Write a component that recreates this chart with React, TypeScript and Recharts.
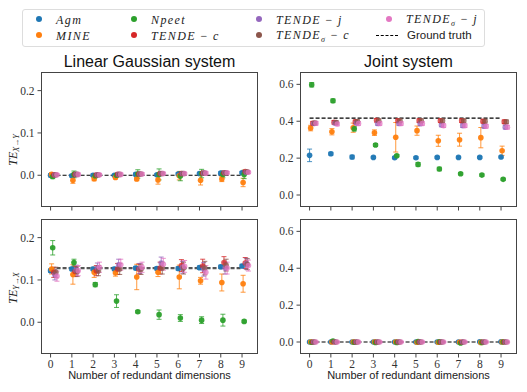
import React from "react";
import { ComposedChart, Scatter, ErrorBar, XAxis, YAxis, ReferenceLine } from "recharts";

// number of redundant dimensions
const dims = [0, 1, 2, 3, 4, 5, 6, 7, 8, 9];

// Linear Gaussian system, TE X->Y
const lgXY_agm = [0.0, -0.001, 0.0, 0.0, 0.002, 0.001, 0.003, 0.004, 0.005, 0.006];
const lgXY_agmErr = [0.004, 0.003, 0.003, 0.002, 0.003, 0.003, 0.003, 0.003, 0.003, 0.003];
const lgXY_mine = [0.002, -0.012, -0.008, -0.005, -0.009, -0.011, -0.001, -0.012, -0.009, -0.017];
const lgXY_mineErr = [0.004, 0.007, 0.005, 0.004, 0.004, 0.01, 0.01, 0.011, 0.006, 0.01];
const lgXY_npeet = [-0.003, 0.002, -0.001, 0.0, 0.003, 0.002, -0.002, 0.004, 0.002, 0.002];
const lgXY_npeetErr = [0.005, 0.008, 0.005, 0.004, 0.01, 0.013, 0.011, 0.01, 0.008, 0.01];
const lgXY_tendeC = [0.001, 0.002, 0.001, 0.002, 0.003, 0.004, 0.004, 0.005, 0.006, 0.009];
const lgXY_tendeJ = [0.001, 0.002, 0.001, 0.002, 0.003, 0.004, 0.004, 0.005, 0.006, 0.007];
const lgXY_tendeSC = [0.001, 0.002, 0.001, 0.002, 0.003, 0.004, 0.004, 0.005, 0.006, 0.008];
const lgXY_tendeSJ = [0.001, 0.002, 0.001, 0.002, 0.003, 0.004, 0.004, 0.005, 0.006, 0.007];
const lgXY_tendeErr = [0.003, 0.003, 0.003, 0.003, 0.003, 0.003, 0.003, 0.003, 0.003, 0.003];

// Joint system, TE X->Y
const jXY_agm = [0.215, 0.224, 0.206, 0.204, 0.202, 0.202, 0.204, 0.204, 0.204, 0.206];
const jXY_agmErr = [0.034, 0.008, 0.01, 0.005, 0.005, 0.005, 0.005, 0.005, 0.005, 0.005];
const jXY_mine = [0.363, 0.343, 0.365, 0.338, 0.313, 0.349, 0.294, 0.3, 0.311, 0.24];
const jXY_mineErr = [0.015, 0.017, 0.025, 0.015, 0.08, 0.025, 0.03, 0.035, 0.055, 0.025];
const jXY_npeet = [0.598, 0.511, 0.359, 0.271, 0.213, 0.166, 0.141, 0.115, 0.108, 0.085];
const jXY_npeetErr = [0.012, 0.01, 0.012, 0.008, 0.006, 0.01, 0.01, 0.006, 0.006, 0.006];
const jXY_tendeC = [0.389, 0.394, 0.397, 0.405, 0.403, 0.403, 0.403, 0.403, 0.4, 0.397];
const jXY_tendeJ = [0.388, 0.39, 0.39, 0.388, 0.388, 0.387, 0.38, 0.376, 0.373, 0.368];
const jXY_tendeSC = [0.39, 0.393, 0.398, 0.403, 0.403, 0.403, 0.402, 0.402, 0.4, 0.397];
const jXY_tendeSJ = [0.389, 0.385, 0.388, 0.388, 0.388, 0.388, 0.376, 0.376, 0.373, 0.368];
const jXY_tendeErr = [0.01, 0.01, 0.01, 0.01, 0.01, 0.01, 0.01, 0.01, 0.01, 0.01];

// Linear Gaussian system, TE Y->X
const lgYX_agm = [0.122, 0.126, 0.126, 0.126, 0.128, 0.127, 0.127, 0.129, 0.131, 0.133];
const lgYX_agmErr = [0.004, 0.004, 0.004, 0.004, 0.004, 0.004, 0.004, 0.004, 0.004, 0.004];
const lgYX_mine = [0.126, 0.113, 0.118, 0.117, 0.107, 0.118, 0.107, 0.098, 0.094, 0.091];
const lgYX_mineErr = [0.012, 0.023, 0.012, 0.008, 0.03, 0.01, 0.028, 0.008, 0.02, 0.02];
const lgYX_npeet = [0.176, 0.141, 0.089, 0.05, 0.025, 0.018, 0.01, 0.005, 0.005, 0.002];
const lgYX_npeetErr = [0.017, 0.008, 0.005, 0.015, 0.003, 0.011, 0.008, 0.008, 0.014, 0.003];
const lgYX_tendeC = [0.118, 0.12, 0.122, 0.126, 0.126, 0.128, 0.134, 0.133, 0.141, 0.14];
const lgYX_tendeJ = [0.112, 0.123, 0.128, 0.136, 0.127, 0.14, 0.13, 0.125, 0.128, 0.138];
const lgYX_tendeSC = [0.118, 0.12, 0.122, 0.126, 0.125, 0.128, 0.128, 0.128, 0.135, 0.137];
const lgYX_tendeSJ = [0.109, 0.122, 0.13, 0.136, 0.13, 0.137, 0.132, 0.118, 0.128, 0.134];
const lgYX_tendeErr = [0.012, 0.012, 0.012, 0.013, 0.012, 0.014, 0.014, 0.016, 0.014, 0.013];

// Joint system, TE Y->X
const jYX_agm = [0.0, 0.0, 0.0, 0.0, 0.0, 0.0, 0.0, 0.0, 0.001, 0.001];
const jYX_mine = [0.0, 0.0, 0.0, 0.0, 0.0, -0.001, -0.001, -0.001, -0.002, 0.0];
const jYX_npeet = [-0.001, 0.005, -0.001, -0.002, -0.002, 0.002, 0.001, -0.005, -0.002, 0.0];
const jYX_npeetErr = [0.002, 0.008, 0.002, 0.003, 0.003, 0.003, 0.002, 0.008, 0.003, 0.002];
const jYX_tende = [0.0, 0.0, 0.0, 0.0, 0.0, 0.0, 0.0, 0.0, 0.0, 0.0];
const jYX_smallErr = [0.002, 0.002, 0.002, 0.002, 0.002, 0.002, 0.002, 0.002, 0.002, 0.002];

const groundTruth = { lgXY: 0.0, jXY: 0.417, lgYX: 0.128, jYX: 0.0 };

const methods = ["Agm", "MINE", "Npeet", "TENDE-c", "TENDE-j", "TENDEs-c", "TENDEs-j"];
const colors = ["#1f77b4", "#ff7f0e", "#2ca02c", "#d62728", "#9467bd", "#8c564b", "#e377c2"];
const offsets = [0, 0.05, 0.1, 0.15, 0.2, 0.25, 0.3];

type Series = [number[], number[]];

const lgXY: Series[] = [
  [lgXY_agm, lgXY_agmErr],
  [lgXY_mine, lgXY_mineErr],
  [lgXY_npeet, lgXY_npeetErr],
  [lgXY_tendeC, lgXY_tendeErr],
  [lgXY_tendeJ, lgXY_tendeErr],
  [lgXY_tendeSC, lgXY_tendeErr],
  [lgXY_tendeSJ, lgXY_tendeErr],
];
const jXY: Series[] = [
  [jXY_agm, jXY_agmErr],
  [jXY_mine, jXY_mineErr],
  [jXY_npeet, jXY_npeetErr],
  [jXY_tendeC, jXY_tendeErr],
  [jXY_tendeJ, jXY_tendeErr],
  [jXY_tendeSC, jXY_tendeErr],
  [jXY_tendeSJ, jXY_tendeErr],
];
const lgYX: Series[] = [
  [lgYX_agm, lgYX_agmErr],
  [lgYX_mine, lgYX_mineErr],
  [lgYX_npeet, lgYX_npeetErr],
  [lgYX_tendeC, lgYX_tendeErr],
  [lgYX_tendeJ, lgYX_tendeErr],
  [lgYX_tendeSC, lgYX_tendeErr],
  [lgYX_tendeSJ, lgYX_tendeErr],
];
const jYX: Series[] = [
  [jYX_agm, jYX_smallErr],
  [jYX_mine, jYX_smallErr],
  [jYX_npeet, jYX_npeetErr],
  [jYX_tende, jYX_smallErr],
  [jYX_tende, jYX_smallErr],
  [jYX_tende, jYX_smallErr],
  [jYX_tende, jYX_smallErr],
];

const PW = 217;
const PH = 135;
const YW = 41;
const serif = "Liberation Serif, DejaVu Serif, serif";
const sans = "Liberation Sans, DejaVu Sans, sans-serif";

function Panel(props: {
  left: number;
  top: number;
  series: Series[];
  gt: number;
  gtColor: string;
  gtWidth: number;
  yDomain: [number, number];
  yTicks: number[];
  xLabels: boolean;
}) {
  const { left, top, series, gt, gtColor, gtWidth, yDomain, yTicks, xLabels } = props;
  const xH = xLabels ? 24 : 10;
  return (
    <div style={{ position: "absolute", left: left - YW, top: top - 4 }}>
      <ComposedChart width={YW + PW + 6} height={4 + PH + xH} margin={{ top: 4, right: 6, left: 0, bottom: 0 }}>
        <XAxis
          type="number"
          dataKey="x"
          domain={[-0.45, 9.75]}
          ticks={dims}
          allowDataOverflow
          axisLine={false}
          tickSize={3.5}
          tickMargin={2.5}
          height={xH}
          stroke="#444"
          tick={{ fontFamily: serif, fontSize: 11.5, fill: "#333" }}
          tickFormatter={(v: number) => (xLabels ? String(v) : "")}
        />
        <YAxis
          type="number"
          dataKey="y"
          domain={yDomain}
          ticks={yTicks}
          allowDataOverflow
          axisLine={false}
          width={YW}
          tickSize={3.5}
          tickMargin={3}
          stroke="#444"
          tick={{ fontFamily: serif, fontSize: 11.5, fill: "#333" }}
          tickFormatter={(v: number) => v.toFixed(1)}
        />
        <ReferenceLine
          segment={[{ x: 0, y: gt }, { x: 9, y: gt }]}
          stroke={gtColor}
          strokeWidth={gtWidth}
          strokeDasharray="4 2"
        />
        {series.map(([vals, errs], m) => (
          <Scatter
            key={methods[m]}
            name={methods[m]}
            data={dims.map((d, i) => ({ x: d + offsets[m], y: vals[i], err: errs[i] }))}
            fill={colors[m]}
            isAnimationActive={false}
            shape={(p: any) => (
              <circle cx={p.cx} cy={p.cy} r={2.8} fill={colors[m]} fillOpacity={m > 2 ? 0.75 : 0.95} />
            )}
          >
            <ErrorBar
              dataKey="err"
              direction="y"
              width={2.5}
              stroke={colors[m]}
              strokeOpacity={0.8}
              strokeWidth={1}
              isAnimationActive={false}
            />
          </Scatter>
        ))}
      </ComposedChart>
      <div
        style={{
          position: "absolute",
          left: YW,
          top: 4,
          width: PW,
          height: PH,
          border: "1px solid #444",
          boxSizing: "border-box",
          pointerEvents: "none",
        }}
      />
    </div>
  );
}

function YLabel({ x, y, sub }: { x: number; y: number; sub: string }) {
  return (
    <svg style={{ position: "absolute", left: x - 12, top: y - 40 }} width={24} height={80}>
      <text
        transform="translate(13 40) rotate(-90)"
        textAnchor="middle"
        fontFamily={serif}
        fontStyle="italic"
        fontSize={12}
        fill="#222"
      >
        TE
        <tspan fontSize={8} dy={2}>
          {sub}
        </tspan>
      </text>
    </svg>
  );
}

function MethodName({ name }: { name: string }) {
  const base = name.startsWith("TENDE") ? "TENDE" : name;
  const sigma = name.startsWith("TENDEs");
  const suffix = name.includes("-") ? name.split("-")[1] : "";
  return (
    <span style={{ fontFamily: serif, fontStyle: "italic", fontSize: 12, letterSpacing: 1.4 }}>
      {base}
      {sigma && <sub style={{ fontSize: 8 }}>σ</sub>}
      {suffix && (
        <>
          <span style={{ fontStyle: "normal" }}> − </span>
          {suffix}
        </>
      )}
    </span>
  );
}

const legendCols = [38, 133, 258, 388];

function Legend() {
  const items = methods.map((m, i) => ({ m, col: Math.floor(i / 2), row: i % 2, color: colors[i] }));
  return (
    <div
      style={{
        position: "absolute",
        left: 22,
        top: 9,
        width: 463,
        height: 38,
        border: "1px solid #ddd",
        borderRadius: 3,
        boxSizing: "border-box",
        color: "#222",
      }}
    >
      {items.map((it) => (
        <div key={it.m} style={{ position: "absolute", left: legendCols[it.col] - 22 - 3, top: it.row * 16 + 1, height: 16, display: "flex", alignItems: "center", whiteSpace: "nowrap" }}>
          <span style={{ width: 6, height: 6, borderRadius: 3, background: it.color, display: "inline-block" }} />
          <span style={{ marginLeft: 14 }}>
            <MethodName name={it.m} />
          </span>
        </div>
      ))}
      <div style={{ position: "absolute", left: 375 - 22, top: 17, height: 16, display: "flex", alignItems: "center", whiteSpace: "nowrap" }}>
        <span style={{ width: 22, borderTop: "1.2px dashed #000", display: "inline-block" }} />
        <span style={{ marginLeft: 9, fontFamily: sans, fontSize: 11.5 }}>Ground truth</span>
      </div>
    </div>
  );
}

const titleStyle: React.CSSProperties = {
  position: "absolute",
  width: PW,
  top: 53,
  textAlign: "center",
  fontFamily: sans,
  fontSize: 16,
  color: "#111",
};

const xLabelStyle: React.CSSProperties = {
  position: "absolute",
  width: PW,
  top: 369,
  textAlign: "center",
  fontFamily: sans,
  fontSize: 11,
  color: "#222",
};

export default function App() {
  return (
    <div style={{ position: "absolute", left: 0, top: 0, width: 527, height: 392, background: "#fff", overflow: "hidden" }}>
      <Legend />
      <div style={{ ...titleStyle, left: 41 }}>Linear Gaussian system</div>
      <div style={{ ...titleStyle, left: 300 }}>Joint system</div>
      <Panel left={41} top={72} series={lgXY} gt={groundTruth.lgXY} gtColor="#000" gtWidth={1.2} yDomain={[-0.075, 0.244]} yTicks={[0, 0.1, 0.2]} xLabels={false} />
      <Panel left={300} top={72} series={jXY} gt={groundTruth.jXY} gtColor="#000" gtWidth={1.2} yDomain={[-0.065, 0.667]} yTicks={[0, 0.2, 0.4, 0.6]} xLabels={false} />
      <Panel left={41} top={219} series={lgYX} gt={groundTruth.lgYX} gtColor="#555" gtWidth={2.2} yDomain={[-0.075, 0.244]} yTicks={[0, 0.1, 0.2]} xLabels />
      <Panel left={300} top={219} series={jYX} gt={groundTruth.jYX} gtColor="#000" gtWidth={1.2} yDomain={[-0.065, 0.667]} yTicks={[0, 0.2, 0.4, 0.6]} xLabels />
      <YLabel x={16} y={150} sub="X→Y" />
      <YLabel x={16} y={288} sub="Y→X" />
      <div style={{ ...xLabelStyle, left: 41 }}>Number of redundant dimensions</div>
      <div style={{ ...xLabelStyle, left: 300 }}>Number of redundant dimensions</div>
    </div>
  );
}
